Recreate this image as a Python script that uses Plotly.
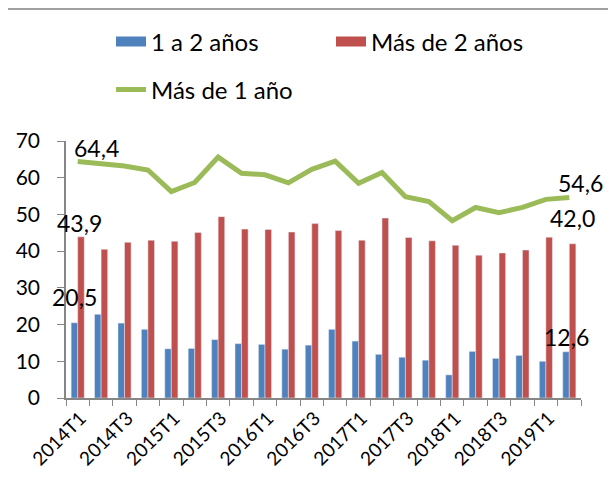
import plotly.graph_objects as go

categories = ["2014T1", "2014T2", "2014T3", "2014T4",
              "2015T1", "2015T2", "2015T3", "2015T4",
              "2016T1", "2016T2", "2016T3", "2016T4",
              "2017T1", "2017T2", "2017T3", "2017T4",
              "2018T1", "2018T2", "2018T3", "2018T4",
              "2019T1", "2019T2"]

uno_a_dos = [20.5, 22.8, 20.4, 18.7, 13.4, 13.5, 15.9, 14.8, 14.6, 13.3, 14.4,
             18.7, 15.5, 11.9, 11.1, 10.3, 6.3, 12.7, 10.8, 11.6, 10.0, 12.6]
mas_de_dos = [43.9, 40.5, 42.4, 43.0, 42.7, 45.1, 49.4, 46.0, 45.9, 45.2, 47.5,
              45.6, 43.0, 49.0, 43.7, 42.8, 41.6, 38.9, 39.5, 40.3, 43.8, 42.0]
mas_de_uno = [64.4, 63.7, 63.2, 62.1, 56.2, 58.7, 65.6, 61.2, 60.8, 58.6, 62.3,
              64.5, 58.5, 61.4, 54.8, 53.5, 48.3, 51.9, 50.5, 51.9, 54.1, 54.6]

tick_text = [c if i % 2 == 0 else "" for i, c in enumerate(categories)]

FONT = "Lato"
BLUE = "#4F81BD"
RED = "#C0504D"
GREEN = "#9BBB59"
AXIS = "#868686"
BORDER = "#A0A0A0"

# the page body adds an 8px offset; the figure is sized to fill the rest
OFF = 8
W, H = 616 - OFF, 490 - OFF
L, R, T, B = 66 - OFF, 35, 141 - OFF, 92
PW, PH = W - L - R, H - T - B

fig = go.Figure()
fig.add_trace(go.Bar(x=categories, y=uno_a_dos, name="1 a 2 años",
                     marker_color=BLUE, showlegend=False))
fig.add_trace(go.Bar(x=categories, y=mas_de_dos, name="Más de 2 años",
                     marker_color=RED, showlegend=False))
fig.add_trace(go.Scatter(x=categories, y=mas_de_uno, name="Más de 1 año",
                         mode="lines", line=dict(color=GREEN, width=5),
                         legend="legend2"))
# legend swatches for the bar series (wide rectangles)
for name, col in [("1 a 2 años", BLUE), ("Más de 2 años", RED)]:
    fig.add_trace(go.Scatter(x=[None], y=[None], name=name, mode="lines",
                             line=dict(color=col, width=13), legend="legend",
                             hoverinfo="skip"))

def fmt(v):
    return f"{v:.1f}".replace(".", ",")

# data labels on first and last points
labels = [
    (0, uno_a_dos, -3, 26),
    (0, mas_de_dos, 2, 14),
    (0, mas_de_uno, 19, 14),
    (-1, uno_a_dos, -3, 15),
    (-1, mas_de_dos, 3, 26),
    (-1, mas_de_uno, 11, 15),
]
for idx, series, xs, ys in labels:
    fig.add_annotation(x=categories[idx], y=series[idx], text=fmt(series[idx]),
                       showarrow=False, xshift=xs, yshift=ys,
                       yanchor="middle", xanchor="center",
                       font=dict(family=FONT, size=23, color="#000000"))

def px_x(p):
    return (p - OFF - L) / PW

def px_y(p):
    return (H - B - (p - OFF)) / PH

# chart border (top and right edges)
fig.add_shape(type="line", xref="paper", yref="paper",
              x0=px_x(0), x1=px_x(612), y0=px_y(9), y1=px_y(9),
              line=dict(color=BORDER, width=2), layer="above")
fig.add_shape(type="line", xref="paper", yref="paper",
              x0=px_x(612), x1=px_x(612), y0=px_y(8), y1=px_y(492),
              line=dict(color=BORDER, width=2.5), layer="above")

fig.update_layout(
    width=W, height=H,
    margin=dict(l=L, r=R, t=T, b=B, autoexpand=False),
    paper_bgcolor="white", plot_bgcolor="white",
    barmode="group", bargap=0.44, bargroupgap=0,
    font=dict(family=FONT, size=20, color="#000000"),
    showlegend=True,
    legend=dict(orientation="h", xref="container", yref="container",
                x=103 / W, y=1 - 34 / H, xanchor="left", yanchor="middle",
                font=dict(family=FONT, size=24), entrywidth=175,
                bgcolor="rgba(0,0,0,0)"),
    legend2=dict(orientation="h", xref="container", yref="container",
                 x=103 / W, y=1 - 82 / H, xanchor="left", yanchor="middle",
                 font=dict(family=FONT, size=24),
                 bgcolor="rgba(0,0,0,0)"),
    xaxis=dict(type="category", tickmode="array", tickvals=categories,
               ticktext=tick_text, tickson="boundaries", ticks="outside",
               range=[-0.5, len(categories) - 0.5],
               ticklen=6, tickcolor=AXIS, showline=True, linecolor=AXIS,
               linewidth=1.5, tickangle=-45, showgrid=False,
               automargin=False, ticklabelshift=3,
               tickfont=dict(family=FONT, size=19)),
    yaxis=dict(range=[0, 70], dtick=10, ticks="outside", ticklen=7,
               tickcolor=AXIS, showline=True, linecolor=AXIS, linewidth=1.5,
               showgrid=False, zeroline=False, ticklabelstandoff=13,
               automargin=False,
               tickfont=dict(family=FONT, size=21)),
)

fig.write_html("out.html")
